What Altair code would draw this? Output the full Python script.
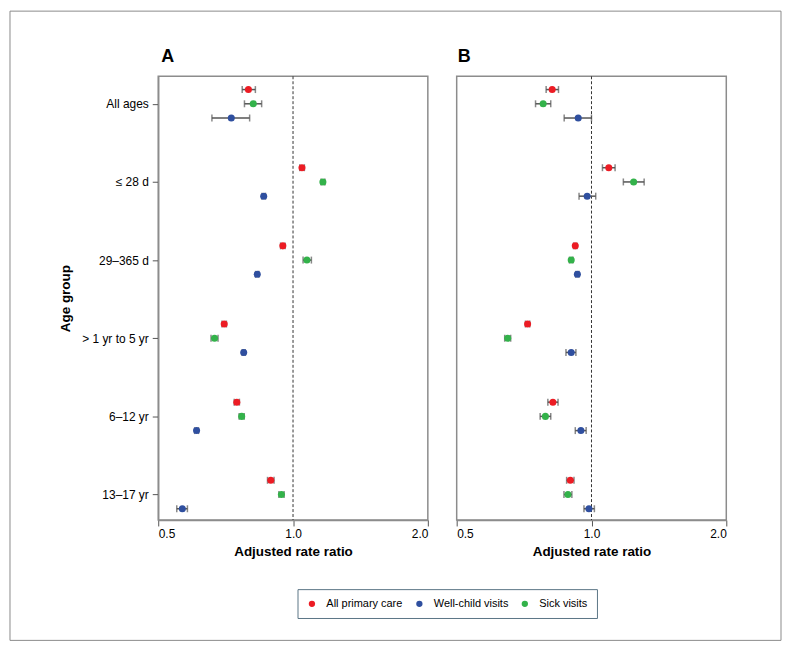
import altair as alt
import pandas as pd

groups = ["All ages", "≤ 28 d", "29–365 d", "> 1 yr to 5 yr", "6–12 yr", "13–17 yr"]
series = ["All primary care", "Well-child visits", "Sick visits"]
colors = ["#ec1c24", "#2f4f9f", "#33b24a"]
row_offsets = [-0.182, 0.182, 0.0]  # primary above, sick middle, well-child below

# Panel A
a_primary_est = [0.795, 1.047, 0.949, 0.702, 0.749, 0.892]
a_primary_lo = [0.770, 1.035, 0.938, 0.694, 0.739, 0.877]
a_primary_hi = [0.824, 1.060, 0.960, 0.710, 0.759, 0.907]
a_well_est = [0.728, 0.860, 0.832, 0.776, 0.609, 0.566]
a_well_lo = [0.659, 0.852, 0.825, 0.770, 0.603, 0.550]
a_well_hi = [0.800, 0.868, 0.839, 0.782, 0.615, 0.581]
a_sick_est = [0.815, 1.166, 1.074, 0.668, 0.768, 0.942]
a_sick_lo = [0.779, 1.155, 1.053, 0.656, 0.758, 0.930]
a_sick_hi = [0.851, 1.178, 1.099, 0.680, 0.778, 0.955]

# Panel B
b_primary_est = [0.817, 1.093, 0.920, 0.720, 0.820, 0.897]
b_primary_lo = [0.792, 1.058, 0.912, 0.712, 0.799, 0.880]
b_primary_hi = [0.844, 1.129, 0.928, 0.728, 0.842, 0.914]
b_well_est = [0.934, 0.978, 0.930, 0.901, 0.947, 0.987]
b_well_lo = [0.869, 0.938, 0.922, 0.877, 0.920, 0.962]
b_well_hi = [1.000, 1.022, 0.938, 0.923, 0.973, 1.015]
b_sick_est = [0.780, 1.242, 0.901, 0.650, 0.789, 0.886]
b_sick_lo = [0.750, 1.178, 0.893, 0.640, 0.768, 0.868]
b_sick_hi = [0.811, 1.311, 0.909, 0.660, 0.811, 0.904]

panel_letters = ["A", "B"]

FONT = "Liberation Sans"


def build(est_lists, lo_lists, hi_lists):
    rows = []
    for si, s in enumerate(series):
        for gi, g in enumerate(groups):
            rows.append(dict(group=g, series=s, pos=gi + row_offsets[si],
                             est=est_lists[si][gi], lo=lo_lists[si][gi], hi=hi_lists[si][gi]))
    return pd.DataFrame(rows)


df_a = build([a_primary_est, a_well_est, a_sick_est],
             [a_primary_lo, a_well_lo, a_sick_lo],
             [a_primary_hi, a_well_hi, a_sick_hi])
df_b = build([b_primary_est, b_well_est, b_sick_est],
             [b_primary_lo, b_well_lo, b_sick_lo],
             [b_primary_hi, b_well_hi, b_sick_hi])

label_expr = "[" + ",".join("'" + g + "'" for g in groups) + "][datum.value]"

xscale = alt.Scale(type="log", domain=[0.5, 2.0], nice=False)
yscale = alt.Scale(domain=[-0.352, 5.326], reverse=True, nice=False, zero=False)
xaxis = alt.Axis(values=[0.5, 1.0, 2.0], format=".1f", grid=False, title="Adjusted rate ratio",
                 labelPadding=3, titlePadding=5)


def panel(df, letter, show_y, frame=False, dx=2):
    if show_y:
        yaxis = alt.Axis(values=[0, 1, 2, 3, 4, 5], labelExpr=label_expr, grid=False,
                         title="Age group", labelPadding=4, titlePadding=9)
    else:
        yaxis = None
    base = alt.Chart(df)
    ref = alt.Chart(pd.DataFrame({"v": [1.0]})).mark_rule(
        strokeDash=[3, 2], color="#333333", strokeWidth=1
    ).encode(x=alt.X("v:Q", scale=xscale, axis=xaxis))
    bars = base.mark_rule(color="#555555", strokeWidth=1.5).encode(
        x=alt.X("lo:Q", scale=xscale, axis=xaxis),
        x2="hi:Q",
        y=alt.Y("pos:Q", scale=yscale, axis=yaxis),
    )
    cap_lo = base.mark_tick(orient="vertical", color="#555555", size=7, thickness=1.5).encode(
        x=alt.X("lo:Q", scale=xscale, axis=xaxis),
        y=alt.Y("pos:Q", scale=yscale, axis=yaxis),
    )
    cap_hi = base.mark_tick(orient="vertical", color="#555555", size=7, thickness=1.5).encode(
        x=alt.X("hi:Q", scale=xscale, axis=xaxis),
        y=alt.Y("pos:Q", scale=yscale, axis=yaxis),
    )
    pts = base.mark_circle(size=50, opacity=1).encode(
        x=alt.X("est:Q", scale=xscale, axis=xaxis),
        y=alt.Y("pos:Q", scale=yscale, axis=yaxis),
        color=alt.Color("series:N", scale=alt.Scale(domain=series, range=colors),
                        legend=alt.Legend(orient="none", legendX=140, legendY=515.5,
                                          direction="horizontal", title=None, padding=9,
                                          strokeColor="#5b7585", fillColor="white",
                                          labelFontSize=11, labelFont=FONT, labelColor="black",
                                          symbolSize=40, symbolType="circle",
                                          columnPadding=11, labelOffset=9)),
    )
    title_txt = alt.Chart(pd.DataFrame({"t": [letter]})).mark_text(
        align="left", baseline="alphabetic", fontSize=18, fontWeight="bold", font=FONT, color="black"
    ).encode(text="t:N", x=alt.value(dx), y=alt.value(-14.5))
    layers = []
    if frame:
        fr = alt.Chart(pd.DataFrame({"k": [0]})).mark_rect(
            filled=False, stroke="#8a8a8a", strokeWidth=1
        ).encode(x=alt.value(-149), x2=alt.value(626), y=alt.value(-65.5), y2=alt.value(567))
        layers.append(fr)
    layers += [ref, bars, cap_lo, cap_hi, pts, title_txt]
    return alt.layer(*layers).properties(width=271, height=446)


pa = panel(df_a, panel_letters[0], True, frame=True, dx=3)
pb = panel(df_b, panel_letters[1], False, dx=1)

chart = alt.hconcat(pa, pb, spacing=29, bounds="flush").properties(padding=0).configure_view(
    stroke="#8c8c8c", strokeWidth=1.5
).configure_axis(
    labelFont=FONT, labelFontSize=12, labelColor="black",
    titleFont=FONT, titleFontSize=13.5, titleFontWeight="bold", titleColor="black",
    tickColor="#555555", tickSize=6, domainColor="#8c8c8c", domainWidth=1.5,
)

chart.save("out.html", embed_options={"renderer": "svg", "actions": False})
